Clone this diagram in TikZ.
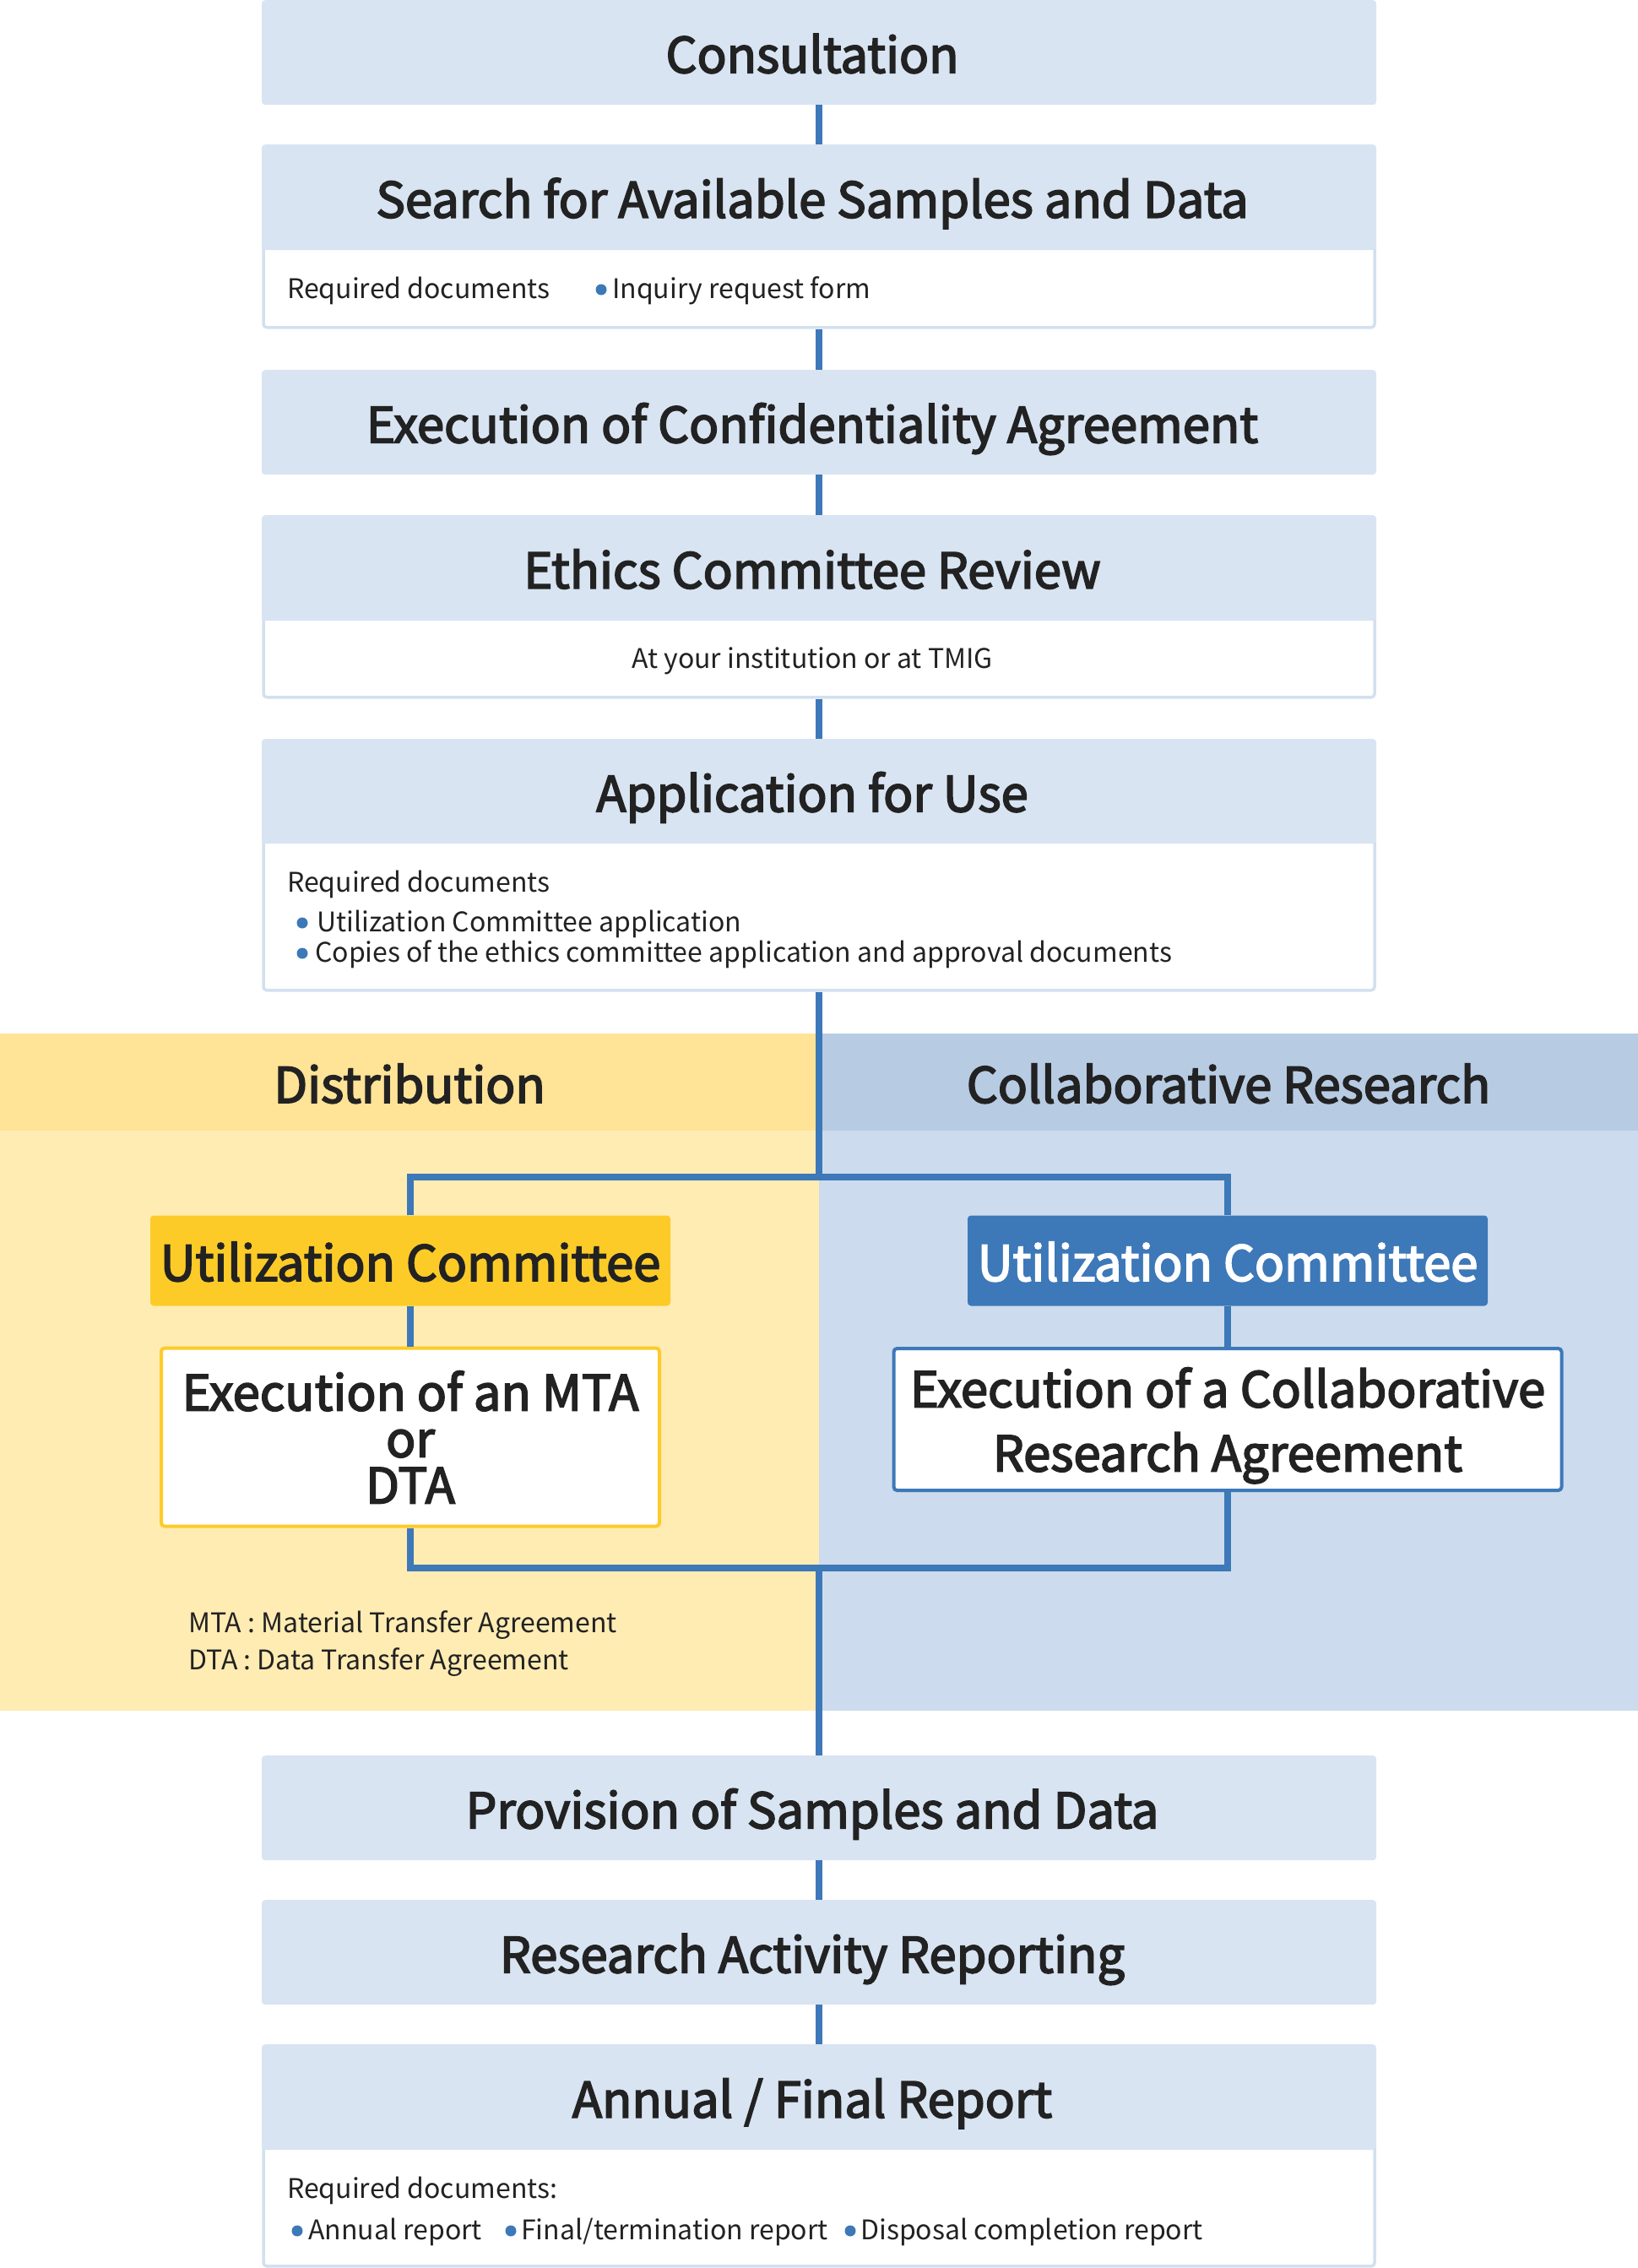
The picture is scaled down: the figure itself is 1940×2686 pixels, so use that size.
\documentclass[tikz,border=0pt]{standalone}
\usepackage{fontspec}
\setmainfont{Noto Sans CJK JP}
\newfontfamily\ttlfont[FakeBold=3]{Noto Sans CJK JP}
\definecolor{hdr}{HTML}{D8E4F2}
\definecolor{bodyline}{HTML}{D3E0EF}
\definecolor{lineblue}{HTML}{3D78B8}
\definecolor{ybandh}{HTML}{FFE397}
\definecolor{yband}{HTML}{FFECB3}
\definecolor{bbandh}{HTML}{B7CBE3}
\definecolor{bband}{HTML}{CCDCEE}
\definecolor{ucy}{HTML}{FDCB28}
\definecolor{txt}{HTML}{222222}
\begin{document}
\begin{tikzpicture}[x=1pt,y=-1pt,
  ttl/.style={font=\ttlfont\fontsize{58}{62}\selectfont, text=txt},
  ttlc/.style={ttl, text height=48pt, text depth=0pt},
  sml/.style={font=\fontsize{32}{38}\selectfont, text=txt, inner sep=0pt},
  hdrbox/.style={ttlc, fill=hdr, rounded corners=4pt, minimum width=1320pt, minimum height=124pt, inner sep=0pt, anchor=north, execute at end node={\hspace*{16pt}}},
  bodybox/.style={fill=white, draw=bodyline, line width=3.5pt, rounded corners=4pt, minimum width=1316pt, inner sep=0pt, anchor=north},
  conn/.style={draw=lineblue, line width=8pt},
  bul/.style={fill=lineblue},
  ucbox/.style={ttlc, rounded corners=4pt, minimum width=616pt, minimum height=107pt, inner sep=0pt},
  agbox/.style={fill=white, rounded corners=4pt, line width=4pt, inner sep=0pt, align=center, text=txt},
]
\useasboundingbox (0,0) rectangle (1940,2686);

% bands
\fill[yband] (0,1224) rectangle (970,2026);
\fill[ybandh] (0,1224) rectangle (970,1339);
\fill[bband] (970,1224) rectangle (1940,2026);
\fill[bbandh] (970,1224) rectangle (1940,1339);
\node[ttlc] (dist) at (485,1282) {Distribution};
\node[ttlc] (collabhead) at (1455,1282) {Collaborative Research};

% top boxes
\node[hdrbox] (consult) at (970,0) {Consultation};

\node[bodybox, minimum height=106pt] (searchbody) at (970,280) {};
\node[hdrbox, minimum height=125pt] (search) at (970,171) {Search for Available Samples and Data};
\node[sml, anchor=base west] (sreq) at (340,353) {Required documents};
\fill[bul] (712,343) circle (6.5pt);
\node[sml, anchor=base west] (sinq) at (725,353) {Inquiry request form};

\node[hdrbox] (conf) at (970,438) {Execution of Confidentiality Agreement};

\node[bodybox, minimum height=104pt] (ethicsbody) at (970,720) {};
\node[hdrbox, minimum height=125pt] (ethics) at (970,610) {Ethics Committee Review};
\node[sml, anchor=base] (etext) at (962,791) {At your institution or at TMIG};

\node[bodybox, minimum height=188pt] (appbody) at (970,983) {};
\node[hdrbox, minimum height=124pt] (app) at (970,875) {Application for Use};
\node[sml, anchor=base west] (areq) at (340,1056) {Required documents};
\fill[bul] (358,1093) circle (6.5pt);
\node[sml, anchor=base west] (a1) at (375,1103) {Utilization Committee application};
\fill[bul] (358,1129) circle (6.5pt);
\node[sml, anchor=base west] (a2) at (373,1139) {Copies of the ethics committee application and approval documents};

% branch boxes
\node[ucbox, fill=ucy] (ucL) at (486,1493) {Utilization Committee};
\node[ucbox, fill=lineblue, text=white] (ucR) at (1454,1493) {Utilization Committee};
\node[agbox, draw=ucy, minimum width=590pt, minimum height=211pt, font=\ttlfont\fontsize{58}{55}\selectfont] (mta) at (486,1702) {Execution of an MTA\\or\\DTA};
\node[agbox, draw=lineblue, minimum width=791pt, minimum height=168pt, text depth=0pt, font=\ttlfont\fontsize{58}{76}\selectfont] (collab) at (1454,1681) {Execution of a Collaborative\\Research Agreement};

\node[sml, anchor=base west] (mtanote) at (223,1933) {MTA : Material Transfer Agreement};
\node[sml, anchor=base west] (dtanote) at (223,1977) {DTA : Data Transfer Agreement};

% bottom boxes
\node[hdrbox] (prov) at (970,2079) {Provision of Samples and Data};
\node[hdrbox] (report) at (970,2250) {Research Activity Reporting};

\node[bodybox, minimum height=152pt] (annualbody) at (970,2530) {};
\node[hdrbox, minimum height=125pt] (annual) at (970,2421) {Annual / Final Report};
\node[sml, anchor=base west] (nreq) at (340,2603) {Required documents:};
\fill[bul] (352,2642) circle (6.5pt);
\node[sml, anchor=base west] (n1) at (365,2652) {Annual report};
\fill[bul] (605,2642) circle (6.5pt);
\node[sml, anchor=base west] (n2) at (617,2652) {Final/termination report};
\fill[bul] (1007,2642) circle (6.5pt);
\node[sml, anchor=base west] (n3) at (1019,2652) {Disposal completion report};

% connectors
\coordinate (jt) at (970,1394);
\coordinate (jb) at (970,1857);
\draw[conn] (consult.south) -- (search.north);
\draw[conn] (searchbody.south) -- (conf.north);
\draw[conn] (conf.south) -- (ethics.north);
\draw[conn] (ethicsbody.south) -- (app.north);
\draw[conn] (appbody.south) -- (jt);
\draw[conn] (ucL.north) |- (jt) -| (ucR.north);
\draw[conn] (ucL.south) -- (mta.north);
\draw[conn] (ucR.south) -- (collab.north);
\draw[conn] (mta.south) |- (jb) -| (collab.south);
\draw[conn] (jb) -- (prov.north);
\draw[conn] (prov.south) -- (report.north);
\draw[conn] (report.south) -- (annual.north);
\end{tikzpicture}
\end{document}
